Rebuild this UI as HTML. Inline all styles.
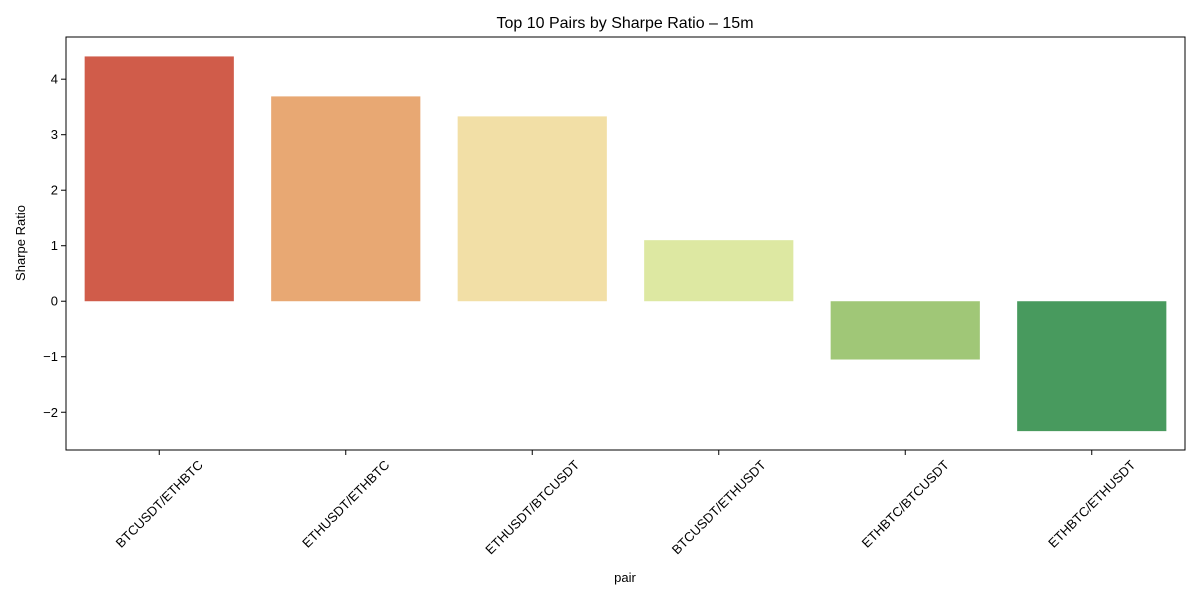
<!DOCTYPE html>
<html><head><meta charset="utf-8"><style>
body{margin:0;background:#fff;}
svg text{font-family:"Liberation Sans","DejaVu Sans",sans-serif;fill:#000;}
</style></head><body>
<svg id="chart" width="1200" height="600">
<text x="625" y="28" font-size="16" text-anchor="middle">Top 10 Pairs by Sharpe Ratio – 15m</text>
<g id="bars"></g>
<g id="yaxis"></g>
<g id="xaxis"></g>
<rect x="66" y="37" width="1119" height="413" fill="none" stroke="#000" stroke-width="1"/>
<text x="625" y="582" font-size="13" text-anchor="middle">pair</text>
<text transform="translate(25,243) rotate(-90)" font-size="13" text-anchor="middle">Sharpe Ratio</text>
</svg>
<script>
const categories=["BTCUSDT/ETHBTC","ETHUSDT/ETHBTC","ETHUSDT/BTCUSDT","BTCUSDT/ETHUSDT","ETHBTC/BTCUSDT","ETHBTC/ETHUSDT"];
const values=[4.41,3.69,3.33,1.10,-1.05,-2.34];
const colors=["#d05c4a","#e8a873","#f2dfa6","#dde8a2","#a0c777","#489a5e"];
const yTicks=[-2,-1,0,1,2,3,4];
const yTickLabels=["−2","−1","0","1","2","3","4"];
const NS="http://www.w3.org/2000/svg";
const L=66,R=1185,T=37,B=450,yMin=-2.68,yMax=4.76;
const y=v=>B-(v-yMin)/(yMax-yMin)*(B-T);
const step=(R-L)/categories.length;
const xc=i=>L+step*(i+0.5);
function mk(tag,attrs,parent){const e=document.createElementNS(NS,tag);for(const k in attrs)e.setAttribute(k,attrs[k]);parent.appendChild(e);return e;}
const gb=document.getElementById('bars'),gy=document.getElementById('yaxis'),gx=document.getElementById('xaxis');
values.forEach((v,i)=>{
 const w=step*0.8;
 const r=mk('rect',{x:xc(i)-w/2,y:Math.min(y(v),y(0)),width:w,height:Math.abs(y(v)-y(0)),fill:colors[i]},gb);
 
 
 mk('line',{x1:xc(i),x2:xc(i),y1:B,y2:B+5,stroke:'#000'},gx);
 const t=mk('text',{x:0,y:4.5,'font-size':13,'text-anchor':'middle'},gx);
 t.textContent=categories[i];
 
 
 const len=t.getComputedTextLength();
 const half=(len+13)*0.7071/2;
 t.setAttribute('transform',`translate(${xc(i)},${B+8+half}) rotate(-45)`);
});
yTicks.forEach((v,i)=>{
 mk('line',{x1:L-5,x2:L,y1:y(v),y2:y(v),stroke:'#000'},gy);
 const t=mk('text',{x:L-8,y:y(v)+4.5,'font-size':13,'text-anchor':'end'},gy);
 t.textContent=yTickLabels[i];
 
 
});
</script>
</body></html>
